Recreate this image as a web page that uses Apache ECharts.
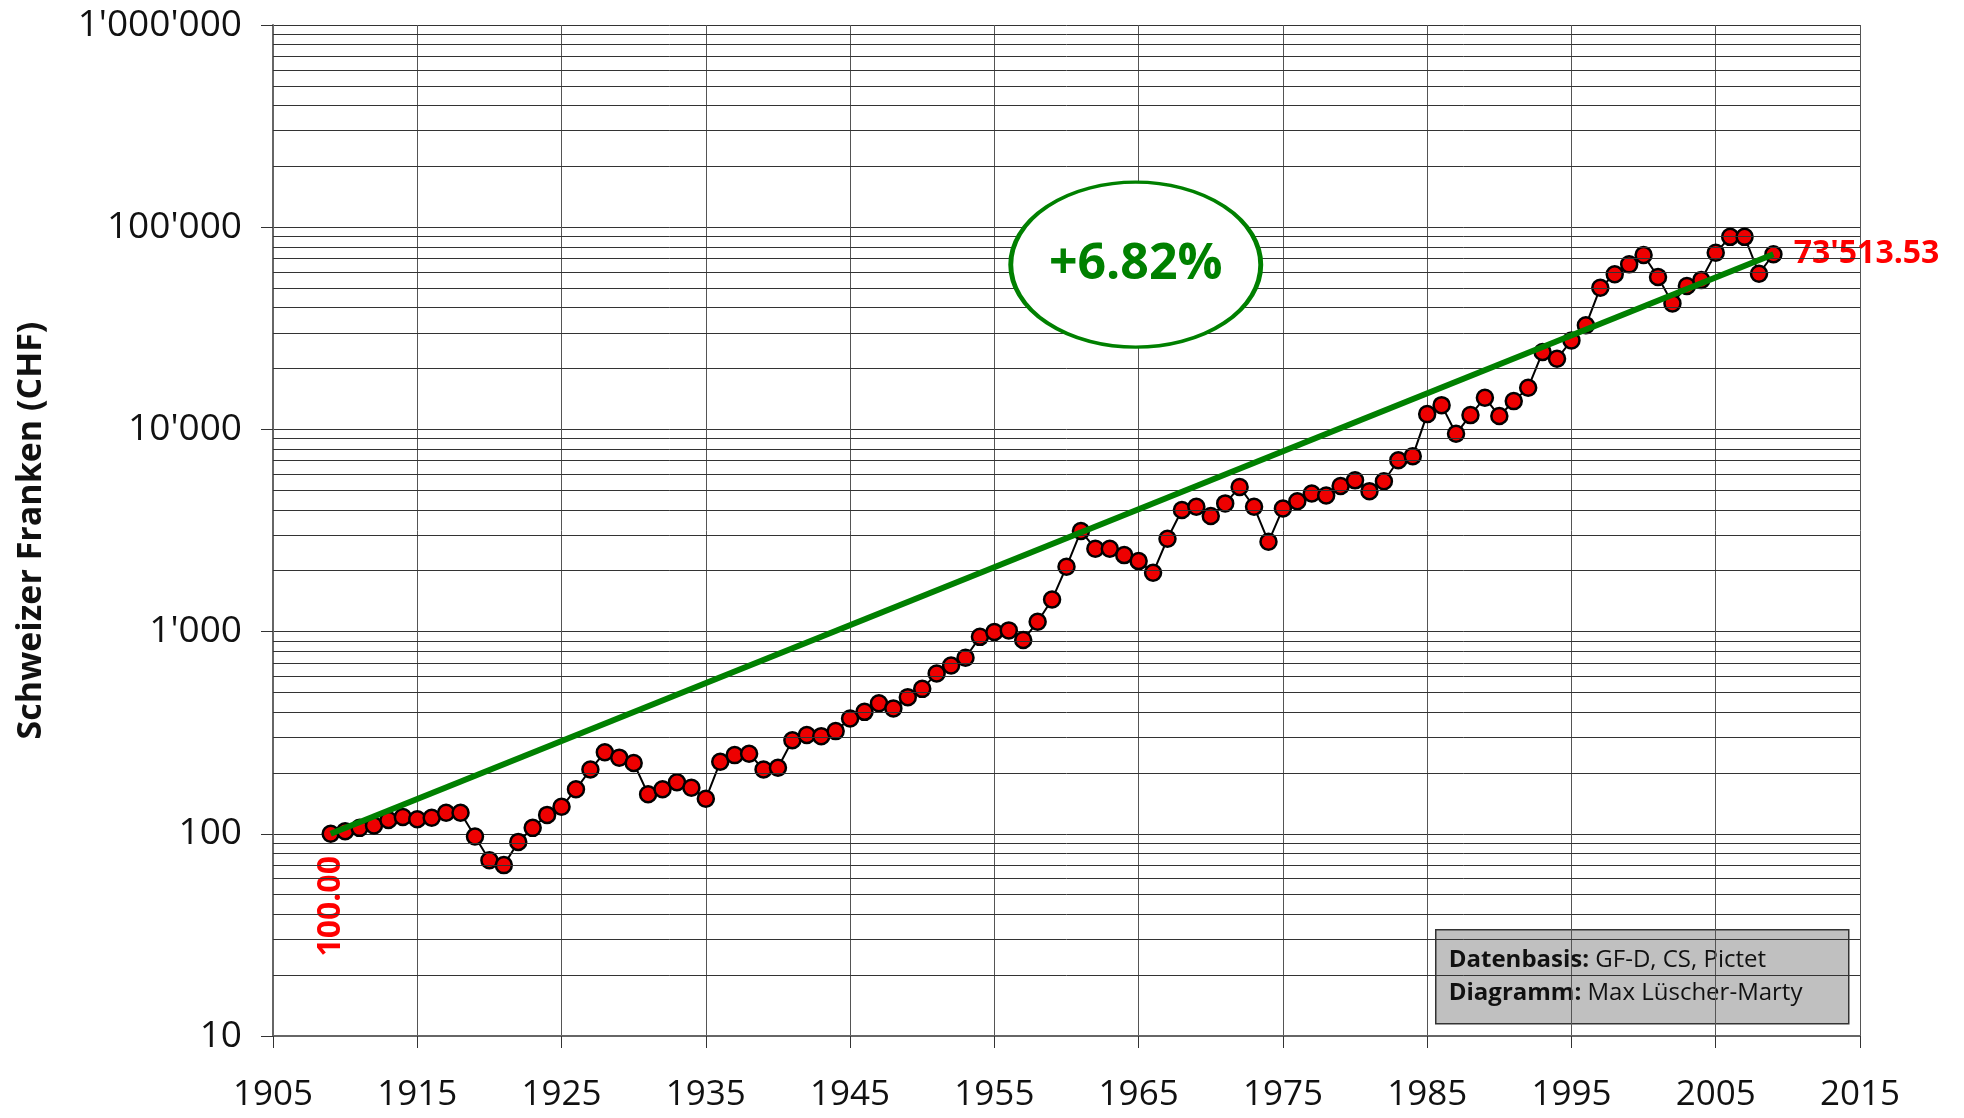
<!DOCTYPE html>
<html>
<head>
<meta charset="utf-8">
<script src="https://cdn.jsdelivr.net/npm/echarts@6/dist/echarts.min.js"></script>
<style>
html,body{margin:0;padding:0;background:#fff;}
#chart{width:1964px;height:1118px;}
</style>
</head>
<body>
<div id="chart"></div>
<script>
// ---- data ----
const years = [
  1909,1910,1911,1912,1913,1914,1915,1916,1917,1918,
  1919,1920,1921,1922,1923,1924,1925,1926,1927,1928,
  1929,1930,1931,1932,1933,1934,1935,1936,1937,1938,
  1939,1940,1941,1942,1943,1944,1945,1946,1947,1948,
  1949,1950,1951,1952,1953,1954,1955,1956,1957,1958,
  1959,1960,1961,1962,1963,1964,1965,1966,1967,1968,
  1969,1970,1971,1972,1973,1974,1975,1976,1977,1978,
  1979,1980,1981,1982,1983,1984,1985,1986,1987,1988,
  1989,1990,1991,1992,1993,1994,1995,1996,1997,1998,
  1999,2000,2001,2002,2003,2004,2005,2006,2007,2008,
  2009
];
const values = [
  100,103,107,110,117,121,118,120,127,127,
  97,74,70,91,107,124,136,166,208,253,
  238,224,157,166,180,169,149,227,245,249,
  208,212,290,308,304,322,372,401,442,417,
  474,521,621,680,742,942,995,1014,908,1119,
  1440,2094,3142,2570,2570,2390,2232,1954,2879,3992,
  4143,3727,4305,5186,4143,2780,4064,4416,4821,4713,
  5246,5598,4951,5541,7042,7375,11900,13180,9510,11770,
  14350,11640,13800,16070,24140,22350,27560,32710,50200,58480,
  65500,72800,56700,42000,51200,54770,74700,89600,89600,58900,
  73513.53
];
const trendYears = [1909, 2009];
const trendValues = [100, 73513.53];
const growthText = '+6.82%';
const growthAt = [1964.8, 65270];
const xTickYears = [1905, 1915, 1925, 1935, 1945, 1955, 1965, 1975, 1985, 1995, 2005, 2015];
const yMinorLines = [
  20,30,40,50,60,70,80,90,
  200,300,400,500,600,700,800,900,
  2000,3000,4000,5000,6000,7000,8000,9000,
  20000,30000,40000,50000,60000,70000,80000,90000,
  200000,300000,400000,500000,600000,700000,800000,900000
];
const yTitle = 'Schweizer Franken (CHF)';
const sourceLabel1 = 'Datenbasis:';
const sourceText1 = ' GF-D, CS, Pictet';
const sourceLabel2 = 'Diagramm:';
const sourceText2 = ' Max Lüscher-Marty';

// ---- build ----
const X0 = xTickYears[0];
const FONT = '"Open Sans", "Noto Sans", sans-serif';
function fmtThousands(v, dec) {
  let s = dec ? v.toFixed(dec) : String(Math.round(v));
  let parts = s.split('.');
  parts[0] = parts[0].replace(/\B(?=(\d{3})+(?!\d))/g, "'");
  return parts.join('.');
}
const lastIdx = values.length - 1;
const seriesData = years.map((y, i) => {
  const item = { value: [y - X0, values[i]] };
  if (i === 0) {
    item.label = {
      show: true, position: 'bottom', rotate: 90, align: 'right', verticalAlign: 'middle',
      distance: 13, formatter: fmtThousands(values[i], 2),
      color: '#ff0000', fontWeight: 'bold', fontSize: 32, fontFamily: FONT
    };
  } else if (i === lastIdx) {
    item.label = {
      show: true, position: 'right', distance: 11,
      formatter: fmtThousands(values[i], 2),
      color: '#ff0000', fontWeight: 'bold', fontSize: 32, fontFamily: FONT
    };
  }
  return item;
});

const chart = echarts.init(document.getElementById('chart'), null, { renderer: 'canvas' });
const option = {
  animation: false,
  backgroundColor: '#ffffff',
  grid: { left: 273, right: 104, top: 25, bottom: 82, containLabel: false },
  xAxis: {
    type: 'value',
    min: xTickYears[0] - X0,
    max: xTickYears[xTickYears.length - 1] - X0,
    interval: 10,
    axisLine: { show: true, lineStyle: { color: '#666', width: 2 } },
    axisTick: { show: true, length: 12, lineStyle: { color: '#333', width: 1 } },
    axisLabel: {
      formatter: v => String(v + X0), fontSize: 35, color: '#111', margin: 42, fontFamily: FONT
    },
    splitLine: { show: true, lineStyle: { color: '#555', width: 1 } }
  },
  yAxis: {
    type: 'log',
    logBase: 10,
    min: 10,
    max: 1000000,
    axisLine: { show: true, lineStyle: { color: '#666', width: 2 } },
    axisTick: { show: true, length: 12, lineStyle: { color: '#333', width: 1 } },
    axisLabel: {
      formatter: v => fmtThousands(v), fontSize: 37, color: '#111', margin: 31, fontFamily: FONT
    },
    splitLine: { show: true, lineStyle: { color: '#333', width: 1 } },
    name: yTitle,
    nameLocation: 'middle',
    nameRotate: 90,
    nameGap: 225,
    nameTextStyle: { fontSize: 34, fontWeight: 'bold', color: '#111', fontFamily: FONT }
  },
  series: [
    {
      type: 'line',
      name: 'grid',
      data: [],
      silent: true,
      z: 1,
      markLine: {
        silent: true,
        symbol: ['none', 'none'],
        label: { show: false },
        lineStyle: { color: '#333', width: 1, type: 'solid' },
        data: yMinorLines.map(v => ({ yAxis: v }))
      }
    },
    {
      type: 'line',
      name: 'Wert',
      data: seriesData,
      z: 3,
      symbol: 'circle',
      symbolSize: 16,
      lineStyle: { color: '#000', width: 2 },
      itemStyle: { color: '#ee0000', borderColor: '#000', borderWidth: 2.5 }
    },
    {
      type: 'line',
      name: 'Trend',
      data: trendYears.map((y, i) => [y - X0, trendValues[i]]),
      showSymbol: false,
      lineStyle: { opacity: 0 },
      z: 5,
      markLine: {
        silent: true,
        symbol: ['none', 'arrow'],
        symbolSize: [0, 24],
        label: { show: false },
        lineStyle: { color: '#008000', width: 6, type: 'solid' },
        data: [[
          { coord: [trendYears[0] - X0, trendValues[0]] },
          { coord: [trendYears[1] - X0, trendValues[1]] }
        ]]
      },
      markPoint: {
        silent: true,
        symbol: 'circle',
        symbolSize: [250, 165],
        itemStyle: { color: '#ffffff', borderColor: '#008000', borderWidth: 4 },
        label: {
          show: true, position: 'inside', formatter: growthText,
          color: '#008000', fontWeight: 'bold', fontSize: 50, fontFamily: FONT
        },
        data: [{ coord: [growthAt[0] - X0, growthAt[1]] }]
      }
    }
  ],
  graphic: [
    {
      type: 'group',
      left: 1435,
      top: 929,
      z: 100,
      children: [
        {
          type: 'rect',
          shape: { x: 0, y: 0, width: 413, height: 94 },
          style: { fill: '#c0c0c0', stroke: '#333', lineWidth: 1.5 }
        },
        {
          type: 'text',
          x: 13, y: 14,
          style: {
            text: '{b|' + sourceLabel1 + '}{n|' + sourceText1 + '}\n{b|' + sourceLabel2 + '}{n|' + sourceText2 + '}',
            rich: {
              b: { fontWeight: 'bold', fontSize: 24, fontFamily: FONT, fill: '#111', lineHeight: 33 },
              n: { fontSize: 24, fontFamily: FONT, fill: '#111', lineHeight: 33 }
            }
          }
        }
      ]
    }
  ]
};
chart.setOption(option);
</script>
</body>
</html>
